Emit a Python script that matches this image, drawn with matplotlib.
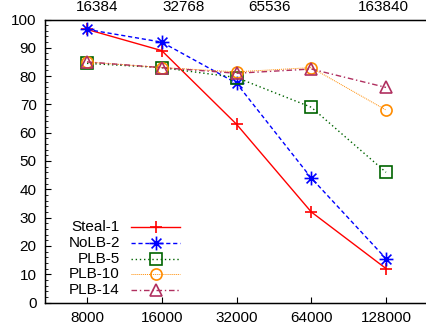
import numpy as np
import matplotlib.pyplot as plt
from matplotlib.lines import Line2D
from matplotlib.path import Path

plt.rcParams['font.family'] = ['Liberation Sans', 'DejaVu Sans']

# data
x = [8000, 16000, 32000, 64000, 128000]
top_ticks = [16384, 32768, 65536, 163840]
steal1 = [96.5, 89, 63, 32, 12]
nolb2 = [96.5, 92, 77.5, 44, 15.5]
plb5 = [84.5, 83, 79.5, 69, 46]
plb10 = [85, 83, 81.5, 83, 68]
plb14 = [85, 83, 81, 82.5, 76]

# gnuplot's "*" point: a + and an x on top of each other
d = 0.7071
star = Path([(-1, 0), (1, 0), (0, -1), (0, 1), (-d, -d), (d, d), (-d, d), (d, -d)],
            [Path.MOVETO, Path.LINETO] * 4)

W, H = 427, 329
fig = plt.figure(figsize=(W / 100, H / 100), dpi=100)
left, right, top, bottom = 45, 427, 19.5, 302.5
ax = fig.add_axes([left / W, (H - bottom) / H, (right - left) / W, (bottom - top) / H])

series = [
    ('Steal-1', steal1, '#ff0000', '-', '+', 1.0, 9),
    ('NoLB-2', nolb2, '#0000ff', (0, (3, 2)), star, 1.0, 10),
    ('PLB-5', plb5, '#006400', (0, (1, 2)), 's', 1.0, 8),
    ('PLB-10', plb10, '#ff8c00', (0, (1, 1)), 'o', 0.7, 8),
    ('PLB-14', plb14, '#b03060', (0, (4, 2, 1, 2)), '^', 1.0, 8),
]
for name, ys, col, ls, mk, lw, ms in series:
    ax.plot(x, ys, color=col, linestyle=ls, linewidth=lw, marker=mk,
            markersize=ms, markerfacecolor='none', markeredgecolor=col,
            markeredgewidth=1.2, label=name)

ax.set_xscale('log', base=2)
px = 74.75
ax.set_xlim(8000 * 2 ** (-(87 - left) / px), 128000 * 2 ** ((right - 386) / px))
ax.set_ylim(0, 100)
ax.set_xticks(x)
ax.set_xticklabels([str(v) for v in x])
ax.xaxis.set_minor_locator(plt.NullLocator())
ax.set_yticks(np.arange(0, 101, 10))
ax.set_yticks(np.arange(0, 101, 2), minor=True)
ax.tick_params(axis='both', which='major', direction='in', length=4, width=0.8,
               labelsize=11, pad=6)
ax.tick_params(axis='y', which='minor', direction='in', length=2, width=0.6)
ax.spines['right'].set_visible(False)
for s in ['left', 'top', 'bottom']:
    ax.spines[s].set_linewidth(1.0)

# top axis labels
ax2 = ax.twiny()
ax2.set_xscale('log', base=2)
tpx = 86.3
ax2.set_xlim(16384 * 2 ** (-(97 - left) / tpx), 16384 * 2 ** ((right - 97) / tpx))
ax2.set_xticks(top_ticks)
ax2.set_xticklabels([str(v) for v in top_ticks])
ax2.xaxis.set_minor_locator(plt.NullLocator())
ax2.tick_params(axis='x', length=0, labelsize=11, pad=4)
ax2.spines['right'].set_visible(False)

# gnuplot-style key: right-aligned text, then sample
aw, ah = right - left, bottom - top
for i, (name, ys, col, ls, mk, lw, ms) in enumerate(series):
    yy = (bottom - (227 + 15.8 * i)) / ah
    ax.text((120 - left) / aw, yy, name, transform=ax.transAxes,
            ha='right', va='center', fontsize=11)
    ax.add_line(Line2D([(131 - left) / aw, (180 - left) / aw], [yy, yy],
                       transform=ax.transAxes, color=col, linestyle=ls,
                       linewidth=lw, clip_on=False))
    ax.add_line(Line2D([(155.5 - left) / aw], [yy], transform=ax.transAxes,
                       marker=mk, markersize=ms, markerfacecolor='none',
                       markeredgecolor=col, markeredgewidth=1.2,
                       linestyle='none', clip_on=False))

fig.savefig('out.png', dpi=100)
